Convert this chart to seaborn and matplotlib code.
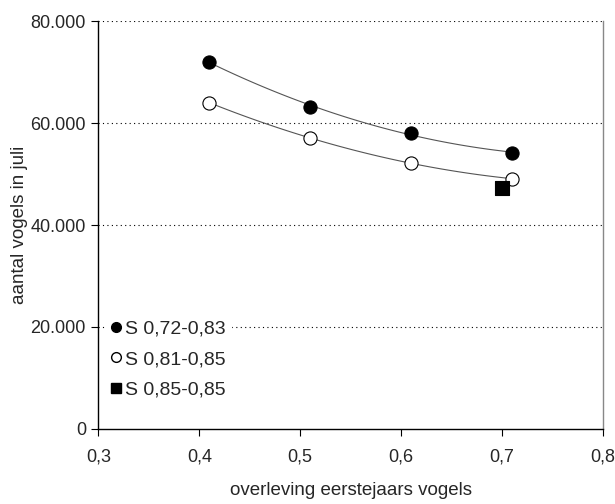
import numpy as np
import pandas as pd
import seaborn as sns
import matplotlib
matplotlib.use("Agg")
import matplotlib.pyplot as plt
from matplotlib.ticker import FuncFormatter, MultipleLocator
from matplotlib.lines import Line2D

# Survival of first-year birds versus number of birds in July
survival = [0.41, 0.51, 0.61, 0.71]
birds_s072_083 = [72000, 63200, 58000, 54200]
birds_s081_085 = [64000, 57100, 52100, 49100]
survival_s085 = [0.70]
birds_s085_085 = [47200]

labels = ["S 0,72-0,83", "S 0,81-0,85", "S 0,85-0,85"]

sns.set_theme(style="white")
plt.rcParams["font.family"] = ["Liberation Sans", "DejaVu Sans"]

fig = plt.figure(figsize=(6.15, 5.04), dpi=100)
ax = fig.add_axes([0.16, 0.149, 0.82, 0.809])

# Second-order trend curves through each series
for ys in (birds_s072_083, birds_s081_085):
    coef = np.polyfit(survival, ys, 2)
    xs = np.linspace(min(survival), max(survival), 100)
    trend = pd.DataFrame({"x": xs, "y": np.polyval(coef, xs)})
    sns.lineplot(data=trend, x="x", y="y", ax=ax, color="#555555",
                 linewidth=0.8, zorder=2)

df1 = pd.DataFrame({"x": survival, "y": birds_s072_083})
df2 = pd.DataFrame({"x": survival, "y": birds_s081_085})
df3 = pd.DataFrame({"x": survival_s085, "y": birds_s085_085})

sns.scatterplot(data=df1, x="x", y="y", ax=ax, marker="o", s=90,
                color="black", edgecolor="black", linewidth=0.8, zorder=3)
sns.scatterplot(data=df2, x="x", y="y", ax=ax, marker="o", s=90,
                color="white", edgecolor="black", linewidth=0.8, zorder=3)
sns.scatterplot(data=df3, x="x", y="y", ax=ax, marker="s", s=90,
                color="black", edgecolor="black", linewidth=0.8, zorder=3)

ax.set_xlim(0.3, 0.8)
ax.set_ylim(0, 80000)
ax.xaxis.set_major_locator(MultipleLocator(0.1))
ax.yaxis.set_major_locator(MultipleLocator(20000))
ax.xaxis.set_major_formatter(FuncFormatter(lambda v, p: f"{v:.1f}".replace(".", ",")))
ax.yaxis.set_major_formatter(FuncFormatter(lambda v, p: f"{int(round(v)):,}".replace(",", ".")))

for yv in (20000, 40000, 60000, 80000):
    ax.axhline(yv, color="black", linestyle=(0, (1, 3)), linewidth=0.8, zorder=1)

for side in ("left", "bottom"):
    ax.spines[side].set_color("black")
    ax.spines[side].set_linewidth(1.0)
ax.spines["top"].set_visible(False)
ax.spines["right"].set_color("#888888")
ax.spines["right"].set_linewidth(1.0)

ax.tick_params(axis="both", which="major", direction="out", length=5,
               width=0.8, color="black", labelsize=13, bottom=True, left=True)
ax.tick_params(axis="x", pad=9)
ax.tick_params(axis="y", pad=4)

ax.set_xlabel("overleving eerstejaars vogels", fontsize=13.5, labelpad=12)
ax.set_ylabel("aantal vogels in juli", fontsize=13.5, labelpad=2)

handles = [
    Line2D([], [], marker="o", linestyle="", markersize=7,
           markerfacecolor="black", markeredgecolor="black"),
    Line2D([], [], marker="o", linestyle="", markersize=7,
           markerfacecolor="white", markeredgecolor="black"),
    Line2D([], [], marker="s", linestyle="", markersize=7,
           markerfacecolor="black", markeredgecolor="black"),
]
leg = ax.legend(handles, labels, loc="upper left", bbox_to_anchor=(0.013, 0.279),
                frameon=True, fancybox=False, facecolor="white", edgecolor="white",
                framealpha=1, fontsize=14, handletextpad=0.2, handlelength=0.6,
                labelspacing=0.66, borderpad=0.25, borderaxespad=0)
leg.set_zorder(4)

fig.savefig("out.png", dpi=100, facecolor="white")
